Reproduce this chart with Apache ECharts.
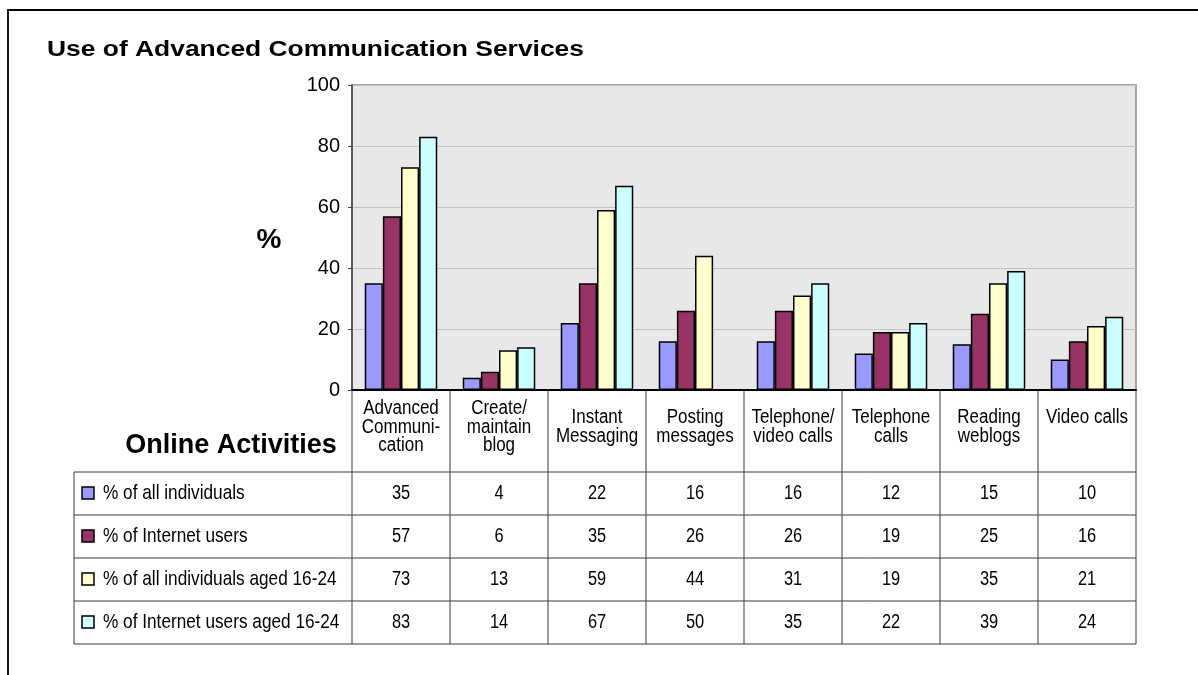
<!DOCTYPE html>
<html>
<head>
<meta charset="utf-8">
<script src="https://cdn.jsdelivr.net/npm/echarts@6/dist/echarts.min.js"></script>
<style>
html,body{margin:0;padding:0;background:#fff;}
#main{width:1198px;height:675px;}
</style>
</head>
<body>
<div id="main"></div>
<script>
var categories = ['Advanced\nCommuni-\ncation', 'Create/\nmaintain\nblog', 'Instant\nMessaging', 'Posting\nmessages', 'Telephone/\nvideo calls', 'Telephone\ncalls', 'Reading\nweblogs', 'Video calls\n '];
var seriesNames = ['% of all individuals', '% of Internet users', '% of all individuals aged 16-24', '% of Internet users aged 16-24'];
var allIndividuals = [35, 4, 22, 16, 16, 12, 15, 10];
var internetUsers = [57, 6, 35, 26, 26, 19, 25, 16];
var allIndividuals1624 = [73, 13, 59, 44, 31, 19, 35, 21];
var internetUsers1624 = [83, 14, 67, 50, 35, 22, 39, 24];
// bar not drawn in the reference picture (value kept in table): [category, series]
var hiddenBars = [[3, 3]];
var yTicks = [0, 20, 40, 60, 80, 100];
var colors = ['#9999FF', '#993366', '#FFFFCC', '#CCFFFF'];

var seriesValues = [allIndividuals, internetUsers, allIndividuals1624, internetUsers1624];
var sansFont = "'Liberation Sans', Arial, sans-serif";
var narrowScale = 0.82;

var chart = echarts.init(document.getElementById('main'), null, {renderer: 'canvas'});

function barData(si) {
  return seriesValues[si].map(function (v, ci) {
    for (var k = 0; k < hiddenBars.length; k++) {
      if (hiddenBars[k][0] === ci && hiddenBars[k][1] === si) return null;
    }
    return v;
  });
}

var option = {
  animation: false,
  backgroundColor: '#ffffff',
  grid: {
    left: 352, right: 62, top: 85, bottom: 285,
    show: true, backgroundColor: '#e8e8e8', borderColor: '#8a8a8a', borderWidth: 1.5
  },
  xAxis: {
    type: 'category',
    data: categories,
    axisLine: {lineStyle: {color: '#000', width: 2}},
    axisTick: {show: false},
    axisLabel: {show: false},
    splitLine: {show: false}
  },
  yAxis: {
    type: 'value',
    min: yTicks[0], max: yTicks[yTicks.length - 1], interval: yTicks[1] - yTicks[0],
    axisLine: {show: true, lineStyle: {color: '#444', width: 1.5}},
    axisTick: {show: true, length: 4, lineStyle: {color: '#444'}},
    axisLabel: {color: '#000', fontSize: 20, fontFamily: sansFont, margin: 12},
    splitLine: {show: true, lineStyle: {color: '#c4c4c4', width: 1}}
  },
  series: seriesNames.map(function (name, si) {
    return {
      name: name,
      type: 'bar',
      data: barData(si),
      barGap: '0%',
      barCategoryGap: '26%',
      itemStyle: {color: colors[si], borderColor: '#000', borderWidth: 1.5}
    };
  })
};
chart.setOption(option);

// Build the data table below the chart, aligned with the category axis
var centers = categories.map(function (c, i) { return chart.convertToPixel({xAxisIndex: 0}, i); });
var band = centers[1] - centers[0];
var axisY = chart.convertToPixel({yAxisIndex: 0}, 0);
var tableLeft = 74;
var firstCol = centers[0] - band / 2;
var lastCol = centers[centers.length - 1] + band / 2;
var headerBottom = axisY + 82;
var rowH = 43;
var lineColor = '#3a3a3a';
var els = [];

// outer frame
els.push({type: 'rect', shape: {x: 8, y: 10, width: 1400, height: 900}, style: {fill: null, stroke: '#000', lineWidth: 1.8}, z: 100});

// title
els.push({type: 'text', x: 47, y: 50, scaleX: 1.2, style: {text: 'Use of Advanced Communication Services', fill: '#000', font: 'bold 22px ' + sansFont, textVerticalAlign: 'middle'}});
// y axis name
els.push({type: 'text', x: 269, y: 240, style: {text: '%', fill: '#000', font: 'bold 28px ' + sansFont, textAlign: 'center', textVerticalAlign: 'middle'}});
// table header
els.push({type: 'text', x: 231, y: 446, style: {text: 'Online Activities', fill: '#000', font: 'bold 27px ' + sansFont, textAlign: 'center', textVerticalAlign: 'middle'}});

// vertical lines
for (var i = 0; i <= categories.length; i++) {
  var x = firstCol + i * band;
  els.push({type: 'line', shape: {x1: x, y1: axisY, x2: x, y2: headerBottom + rowH * seriesNames.length}, style: {stroke: lineColor, lineWidth: 1}});
}
els.push({type: 'line', shape: {x1: tableLeft, y1: headerBottom, x2: tableLeft, y2: headerBottom + rowH * seriesNames.length}, style: {stroke: lineColor, lineWidth: 1}});
// horizontal lines
for (var r = 0; r <= seriesNames.length; r++) {
  var y = headerBottom + r * rowH;
  els.push({type: 'line', shape: {x1: tableLeft, y1: y, x2: lastCol, y2: y}, style: {stroke: lineColor, lineWidth: 1}});
}
// header labels
categories.forEach(function (c, i) {
  els.push({type: 'text', x: centers[i], y: axisY + 37, scaleX: 0.85, style: {text: c, fill: '#000', font: '20px ' + sansFont, textAlign: 'center', textVerticalAlign: 'middle', lineHeight: 18.5}});
});
// rows
seriesNames.forEach(function (name, si) {
  var cy = headerBottom + si * rowH + rowH / 2;
  els.push({type: 'rect', shape: {x: 82, y: cy - 6.5, width: 12, height: 12}, style: {fill: colors[si], stroke: '#000', lineWidth: 1.5}});
  els.push({type: 'text', x: 103, y: cy, scaleX: narrowScale, style: {text: name, fill: '#000', font: '21px ' + sansFont, textVerticalAlign: 'middle'}});
  seriesValues[si].forEach(function (v, ci) {
    els.push({type: 'text', x: centers[ci], y: cy, scaleX: narrowScale, style: {text: String(v), fill: '#000', font: '20px ' + sansFont, textAlign: 'center', textVerticalAlign: 'middle'}});
  });
});

chart.setOption({graphic: {elements: els}});
</script>
</body>
</html>
